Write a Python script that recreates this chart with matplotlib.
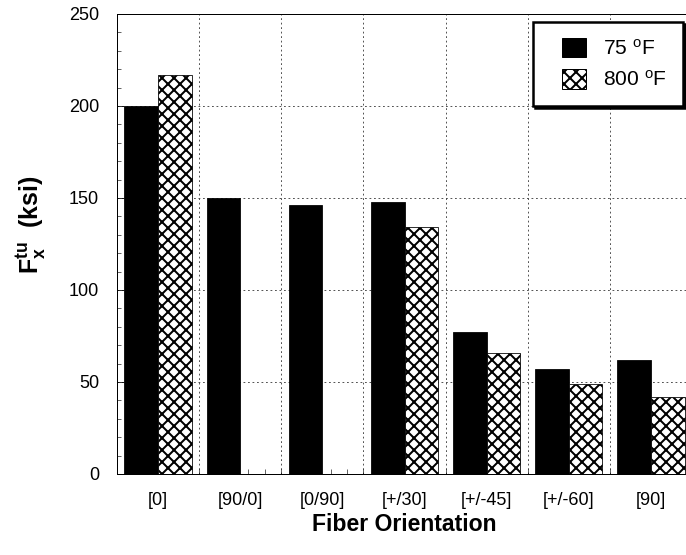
import numpy as np
import matplotlib
matplotlib.use("Agg")
import matplotlib.pyplot as plt
from matplotlib.ticker import MultipleLocator, FixedLocator
from matplotlib.patches import Patch, Rectangle
from matplotlib.legend_handler import HandlerPatch

plt.rcParams['font.family'] = ['Liberation Sans', 'DejaVu Sans']
plt.rcParams['mathtext.fontset'] = 'custom'
plt.rcParams['mathtext.rm'] = 'Liberation Sans'
plt.rcParams['mathtext.bf'] = 'Liberation Sans:bold'
plt.rcParams['mathtext.it'] = 'Liberation Sans:italic'
plt.rcParams['hatch.linewidth'] = 2.0

categories = ['[0]', '[90/0]', '[0/90]', '[+/30]', '[+/-45]', '[+/-60]', '[90]']
temp_75 = [200, 150, 146, 148, 77, 57, 62]
temp_800 = [217, 0, 0, 134, 66, 49, 42]
series_labels = ['75 $^{\\mathrm{o}}$F', '800 $^{\\mathrm{o}}$F']
y_ticks = [0, 50, 100, 150, 200, 250]

DPI = 72
fig = plt.figure(figsize=(686 / DPI, 555 / DPI), dpi=DPI)
ax = fig.add_axes([117 / 686, 81 / 555, 575 / 686, 460 / 555])

x = np.arange(len(categories))
w = 0.41
ax.bar(x - w / 2, temp_75, width=w, color='black', edgecolor='black', linewidth=0.8, zorder=3)
ax.bar(x + w / 2, temp_800, width=w, color='white', edgecolor='black', hatch='xx', linewidth=0.8, zorder=3)

ax.set_xlim(-0.5, len(categories) - 0.5)
ax.set_ylim(0, 250)

ax.yaxis.set_major_locator(FixedLocator(y_ticks))
ax.yaxis.set_minor_locator(MultipleLocator(10))
ax.set_xticks(x)
ax.set_xticklabels(categories)
ax.xaxis.set_minor_locator(FixedLocator(np.arange(-0.5, len(categories), 0.2)))

ax.tick_params(axis='y', which='both', direction='in', left=True, right=False, labelsize=18, pad=18)
ax.tick_params(axis='y', which='major', length=7)
ax.tick_params(axis='y', which='minor', length=4)
ax.tick_params(axis='x', which='both', direction='in', top=True, bottom=True)
ax.tick_params(axis='x', which='major', length=0, labelsize=18, pad=18)
ax.tick_params(axis='x', which='minor', length=5)

ax.yaxis.grid(True, which='major', color='#444444', linestyle=(0, (2, 3)), linewidth=0.9, zorder=0)
# vertical grid lines at the category boundaries
bounds = np.arange(-0.5, len(categories), 1.0)
ax2 = ax.twiny()
ax2.set_xlim(ax.get_xlim())
ax2.set_xticks(bounds)
ax2.tick_params(axis='x', which='both', top=False, labeltop=False, length=0)
ax2.xaxis.grid(True, color='#444444', linestyle=(0, (2, 3)), linewidth=0.9)
ax2.set_zorder(-1)
ax.patch.set_visible(False)
ax.set_axisbelow(True)
for s in list(ax.spines.values()) + list(ax2.spines.values()):
    s.set_linewidth(1.0)

ax.set_xlabel('Fiber Orientation', fontsize=23, fontweight='bold', labelpad=4)
fig.text(31 / 686, 1 - 225 / 555, '$\\mathbf{F_x^{tu}}$  (ksi)', ha='center', va='center',
         rotation=90, fontsize=25, fontweight='bold')


def square_handle(legend, orig_handle, xdescent, ydescent, width, height, fontsize):
    side = 24
    return Rectangle((-xdescent + width - side, -ydescent), side, height)


handles = [Patch(facecolor='black', edgecolor='black'),
           Patch(facecolor='white', edgecolor='black', hatch='xx')]
leg = fig.legend(handles, series_labels, loc='upper right',
                 bbox_to_anchor=(683 / 686, 1 - 22 / 555), fontsize=21,
                 handlelength=1.75, handleheight=1.05, labelspacing=0.5,
                 handletextpad=0.85, borderpad=0.75, borderaxespad=0.0,
                 fancybox=False, framealpha=1, edgecolor='black',
                 shadow={'color': 'black', 'alpha': 1.0},
                 handler_map={Patch: HandlerPatch(patch_func=square_handle)})
leg.get_frame().set_linewidth(2.5)

fig.savefig('out.png', dpi=DPI)
